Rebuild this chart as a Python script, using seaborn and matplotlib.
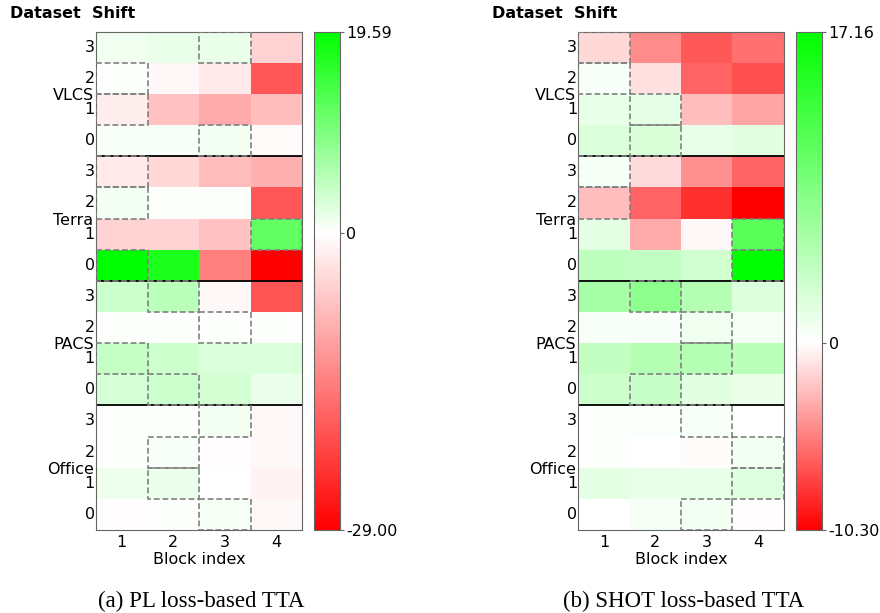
import numpy as np
import pandas as pd
import matplotlib
matplotlib.use("Agg")
import matplotlib.pyplot as plt
import matplotlib.transforms as mtransforms
import seaborn as sns
from matplotlib.colors import LinearSegmentedColormap
from matplotlib.patches import Rectangle

sns.set_theme(style="white")
plt.rcParams['font.family'] = ['DejaVu Sans']
plt.rcParams['text.color'] = 'black'
plt.rcParams['axes.labelcolor'] = 'black'
plt.rcParams['xtick.color'] = 'black'
plt.rcParams['ytick.color'] = 'black'

blocks = [1, 2, 3, 4]
datasets = ['VLCS', 'Terra', 'PACS', 'Office']
shift_levels = [3, 2, 1, 0]

# rows go top to bottom: VLCS 3..0, Terra 3..0, PACS 3..0, Office 3..0
pl_values = [
    [1.0, 1.6, 1.7, -5.0],
    [0.1, -0.8, -2.5, -19.0],
    [-2.0, -7.0, -9.5, -7.5],
    [0.5, 0.5, 0.9, -0.5],
    [-2.5, -4.5, -7.5, -9.0],
    [0.8, 0.1, 0.2, -19.0],
    [-5.0, -5.0, -7.0, 12.0],
    [19.59, 17.5, -14.5, -29.00],
    [3.9, 5.3, -0.8, -19.4],
    [0.1, 0.1, 0.1, 0.05],
    [4.3, 3.9, 2.7, 2.8],
    [3.1, 3.9, 3.3, 1.5],
    [0.2, 0.2, 0.8, -0.8],
    [0.2, 0.5, -0.3, -0.9],
    [1.2, 1.5, 0.0, -1.4],
    [-0.3, 0.1, 0.7, -0.8],
]
shot_values = [
    [-1.6, -4.7, -6.7, -5.7],
    [0.5, -1.2, -6.3, -7.0],
    [1.5, 1.7, -2.6, -3.6],
    [2.4, 2.6, 1.6, 2.0],
    [0.6, -1.4, -4.5, -6.2],
    [-2.6, -6.3, -8.3, -10.30],
    [1.8, -3.4, -0.3, 11.2],
    [4.3, 4.1, 3.2, 17.16],
    [6.0, 7.7, 5.0, 2.2],
    [0.5, 0.5, 1.0, 0.7],
    [4.0, 5.0, 5.0, 4.7],
    [3.4, 3.7, 2.0, 1.3],
    [0.2, 0.3, 0.5, 0.0],
    [0.2, 0.05, -0.2, 0.9],
    [1.8, 1.4, 1.5, 2.1],
    [0.0, 0.7, 0.9, -0.1],
]
# highlighted block (1-based) for each row, same row order
pl_best = [3, 1, 1, 3, 1, 1, 4, 1, 2, 3, 1, 2, 3, 2, 2, 3]
shot_best = [1, 1, 2, 2, 1, 1, 4, 4, 2, 3, 3, 2, 3, 4, 4, 3]

W, H = 880, 613


def draw_panel(values, best, caption, heat_x, cbar_x, title_x, cap_x):
    df = pd.DataFrame(values, columns=blocks)
    vmin, vmax = df.values.min(), df.values.max()
    f = -vmin / (vmax - vmin)
    cmap = LinearSegmentedColormap.from_list(
        'rwg', [(0, '#ff0000'), (f, '#ffffff'), (1, '#00ff00')])

    ax = fig.add_axes([heat_x[0] / W, 1 - 530 / H,
                       (heat_x[1] - heat_x[0]) / W, (530 - 31.7) / H])
    cax = fig.add_axes([cbar_x[0] / W, 1 - 530 / H,
                        (cbar_x[1] - cbar_x[0]) / W, (530 - 31.7) / H])
    sns.heatmap(df, ax=ax, cbar_ax=cax, cmap=cmap, vmin=vmin, vmax=vmax,
                xticklabels=blocks, yticklabels=shift_levels * 4)

    for sp in ax.spines.values():
        sp.set_visible(True)
        sp.set_color('0.4')
        sp.set_linewidth(0.8)
    ax.tick_params(axis='y', length=0, pad=0.8, labelsize=11.5, rotation=0)
    ax.tick_params(axis='x', length=0, pad=3.5, labelsize=11.5)
    ax.set_xlabel('Block index', fontsize=11.5, labelpad=1.5)
    ax.set_ylabel('')

    for y in [4, 8, 12]:
        ax.axhline(y, color='black', lw=1.3)

    for r, b in enumerate(best):
        ax.add_patch(Rectangle((b - 1, r), 1, 1, fill=False, edgecolor='gray',
                               lw=1.2, linestyle=(0, (3.5, 1.7)), zorder=5))

    trans = mtransforms.blended_transform_factory(ax.transAxes, ax.transData)
    for i, name in enumerate(datasets):
        ax.text(-0.012, 4 * i + 2.05, name, transform=trans, ha='right',
                va='center', fontsize=11.5)

    cb = ax.collections[0].colorbar
    cb.set_ticks([vmin, 0, vmax])
    cb.set_ticklabels([f'{vmin:.2f}', '0', f'{vmax:.2f}'])
    cb.outline.set_linewidth(0.8)
    cb.outline.set_edgecolor('0.4')
    cax.tick_params(length=3, width=0.8, pad=1.5, labelsize=11.5, color='0.4')

    fig.text(title_x / W, 1 - 14 / H, 'Dataset  Shift', fontsize=11.5,
             fontweight='bold', ha='left', va='center')
    fig.text(cap_x / W, 1 - 601 / H, caption, fontsize=16.5,
             family='Liberation Serif', ha='center', va='center')


fig = plt.figure(figsize=(W / 100, H / 100), dpi=100)
draw_panel(pl_values, pl_best, '(a) PL loss-based TTA',
           (96, 302), (314.3, 340), 10, 201.7)
draw_panel(shot_values, shot_best, '(b) SHOT loss-based TTA',
           (578.3, 783.7), (796, 822.3), 492, 683.5)

fig.savefig('out.png', dpi=100)
